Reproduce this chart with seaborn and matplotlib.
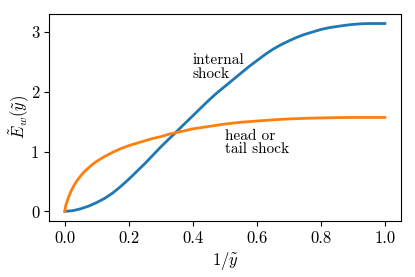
import numpy as np
import pandas as pd
import matplotlib
matplotlib.use("Agg")
import matplotlib.pyplot as plt
import seaborn as sns

# values
x_internal = [0.0, 0.025, 0.05, 0.075, 0.1, 0.125, 0.15, 0.175, 0.2, 0.225,
              0.25, 0.275, 0.3, 0.325, 0.35, 0.375, 0.4, 0.425, 0.45, 0.475,
              0.5, 0.525, 0.55, 0.575, 0.6, 0.625, 0.65, 0.675, 0.7, 0.725,
              0.75, 0.775, 0.8, 0.825, 0.85, 0.875, 0.9, 0.925, 0.95, 0.975,
              1.0]
y_internal = [0.0, 0.012, 0.045, 0.09, 0.15, 0.22, 0.31, 0.42, 0.54, 0.67,
              0.80, 0.94, 1.08, 1.21, 1.34, 1.47, 1.60, 1.73, 1.86, 1.98,
              2.09, 2.20, 2.31, 2.42, 2.52, 2.62, 2.71, 2.785, 2.85, 2.91,
              2.96, 3.00, 3.04, 3.07, 3.09, 3.11, 3.125, 3.135, 3.14, 3.14,
              3.14]

x_head = [0.0, 0.001, 0.0025, 0.005, 0.0075, 0.01, 0.015, 0.02, 0.03, 0.04,
          0.05, 0.06, 0.07, 0.085, 0.1, 0.125, 0.15, 0.175, 0.2, 0.225, 0.25,
          0.275, 0.3, 0.325, 0.35, 0.375, 0.4, 0.45, 0.5, 0.55, 0.6, 0.65,
          0.7, 0.75, 0.8, 0.85, 0.9, 0.95, 1.0]
y_head = [0.0, 0.06, 0.10, 0.14, 0.18, 0.22, 0.29, 0.35, 0.45, 0.53,
          0.60, 0.66, 0.71, 0.78, 0.84, 0.92, 0.99, 1.05, 1.10, 1.14, 1.18,
          1.22, 1.25, 1.29, 1.32, 1.35, 1.38, 1.42, 1.46, 1.49, 1.51, 1.53,
          1.545, 1.555, 1.562, 1.567, 1.57, 1.57, 1.57]

x_ticks = [0.0, 0.2, 0.4, 0.6, 0.8, 1.0]
y_ticks = [0, 1, 2, 3]
label_internal = "internal\nshock"
label_head = "head or\ntail shock"

plt.rcParams['font.family'] = ['cmr10']
plt.rcParams['mathtext.fontset'] = 'cm'
plt.rcParams['axes.formatter.use_mathtext'] = True
plt.rcParams['axes.unicode_minus'] = False

fig = plt.figure(figsize=(4.15, 2.77), dpi=100)
ax = fig.add_axes([0.118, 0.203, 0.848, 0.746])

df1 = pd.DataFrame({"x": x_internal, "y": y_internal})
df2 = pd.DataFrame({"x": x_head, "y": y_head})
sns.lineplot(data=df1, x="x", y="y", ax=ax, color="#1f77b4", lw=2.0,
             estimator=None, sort=False)
sns.lineplot(data=df2, x="x", y="y", ax=ax, color="#ff7f0e", lw=2.0,
             estimator=None, sort=False)

ax.set_xticks(x_ticks)
ax.set_yticks(y_ticks)
ax.set_xticklabels([f"{t:.1f}" for t in x_ticks])
ax.set_yticklabels([str(t) for t in y_ticks])
ax.tick_params(labelsize=12, length=3.5, width=0.8)
ax.set_xlabel(r"$1/\tilde{y}$", fontsize=12, labelpad=3)
ax.set_ylabel(r"$\tilde{E}_w(\tilde{y})$", fontsize=12, labelpad=-1)

ax.text(0.40, 2.41, label_internal, fontsize=11, va="center", ha="left",
        linespacing=1.0)
ax.text(0.50, 1.15, label_head, fontsize=11, va="center", ha="left",
        linespacing=1.0)

fig.savefig("out.png", dpi=100)
